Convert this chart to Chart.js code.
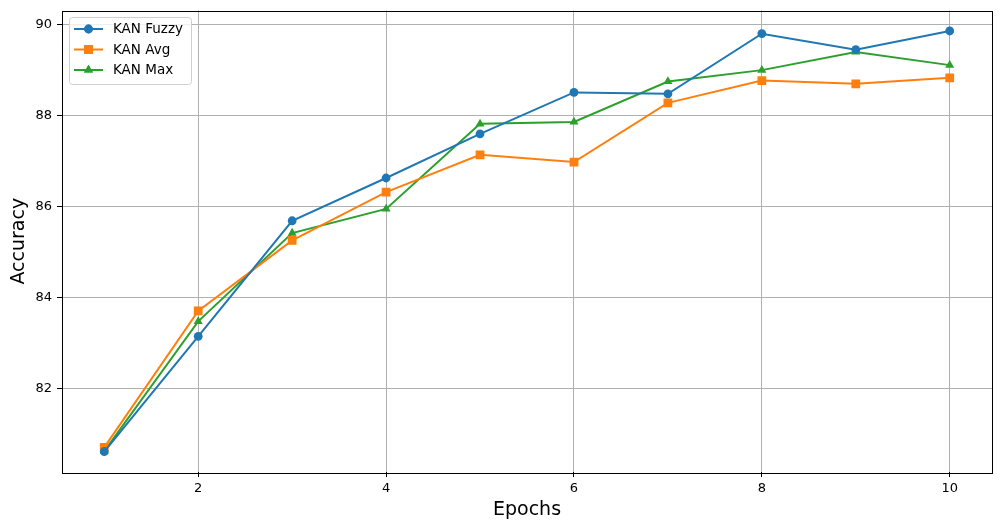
<!DOCTYPE html>
<html>
<head>
<meta charset="utf-8">
<script src="https://cdn.jsdelivr.net/npm/chart.js@4"></script>
<style>
  html, body { margin: 0; padding: 0; background: #fff; }
  canvas { display: block; }
</style>
</head>
<body>
<canvas id="grafico" width="1002" height="530"></canvas>
<script>
// datos
const epochs = [1, 2, 3, 4, 5, 6, 7, 8, 9, 10];
const kanFuzzy = [80.62, 83.15, 85.69, 86.63, 87.60, 88.51, 88.48, 89.80, 89.45, 89.86];
const kanAvg   = [80.71, 83.71, 85.26, 86.32, 87.14, 86.98, 88.28, 88.77, 88.70, 88.83];
const kanMax   = [80.63, 83.48, 85.42, 85.95, 87.82, 87.86, 88.75, 89.00, 89.40, 89.11];
const xTicks = [2, 4, 6, 8, 10];
const yTicks = [82, 84, 86, 88, 90];

const FONT = 'DejaVu Sans';

const toPoints = vals => epochs.map((e, i) => ({ x: e, y: vals[i] }));

function serie(label, vals, color, style, radius) {
  return {
    label: label,
    data: toPoints(vals),
    borderColor: color,
    backgroundColor: color,
    borderWidth: 2,
    pointStyle: style,
    pointRadius: radius,
    pointBorderWidth: 0,
    pointBackgroundColor: color,
    tension: 0
  };
}

// marco completo, como en matplotlib
const marco = {
  id: 'marco',
  afterDatasetsDraw(chart) {
    const { ctx, chartArea: a } = chart;
    ctx.save();
    ctx.strokeStyle = '#000';
    ctx.lineWidth = 1;
    ctx.strokeRect(Math.round(a.left) + 0.5, Math.round(a.top) + 0.5,
                   Math.round(a.right - a.left), Math.round(a.bottom - a.top));
    ctx.restore();
  }
};

// leyenda con linea + marcador
const leyenda = {
  id: 'leyenda',
  afterDraw(chart) {
    const ctx = chart.ctx;
    const x0 = 69, y0 = 17, w = 122, h = 67;
    ctx.save();
    ctx.fillStyle = 'rgba(255,255,255,0.8)';
    ctx.strokeStyle = '#d0d0d0';
    ctx.lineWidth = 1;
    ctx.beginPath();
    ctx.roundRect(x0 + 0.5, y0 + 0.5, w, h, 3);
    ctx.fill();
    ctx.stroke();
    ctx.font = '13.5px ' + FONT;
    ctx.textBaseline = 'middle';
    chart.data.datasets.forEach((ds, i) => {
      const cy = 29 + i * 20.5;
      ctx.strokeStyle = ds.borderColor;
      ctx.lineWidth = 2;
      ctx.beginPath();
      ctx.moveTo(74, cy);
      ctx.lineTo(103, cy);
      ctx.stroke();
      ctx.fillStyle = ds.borderColor;
      Chart.helpers.drawPoint(ctx, {
        pointStyle: ds.pointStyle, radius: ds.pointRadius, rotation: 0, borderWidth: 0
      }, 88.5, cy);
      ctx.fill();
      ctx.fillStyle = '#000';
      ctx.fillText(ds.label, 113, cy + 0.5);
    });
    ctx.restore();
  }
};

const ctx = document.getElementById('grafico').getContext('2d');
new Chart(ctx, {
  type: 'line',
  data: {
    datasets: [
      serie('KAN Fuzzy', kanFuzzy, '#1f77b4', 'circle', 4.4),
      serie('KAN Avg', kanAvg, '#ff7f0e', 'rect', 6.2),
      serie('KAN Max', kanMax, '#2ca02c', 'triangle', 5.2)
    ]
  },
  options: {
    responsive: false,
    animation: false,
    layout: { padding: { top: 10.5, right: 10, left: 0, bottom: 0 } },
    plugins: {
      legend: { display: false },
      tooltip: { enabled: false }
    },
    scales: {
      x: {
        type: 'linear',
        min: 0.55,
        max: 10.45,
        afterBuildTicks: s => { s.ticks = xTicks.map(v => ({ value: v })); },
        afterFit: s => { s.height = 58; s.paddingLeft = 0; s.paddingRight = 0; },
        grid: { color: '#b0b0b0', lineWidth: 1, tickLength: 5, tickColor: '#000' },
        border: { display: false },
        ticks: { color: '#000', font: { family: FONT, size: 13 }, padding: 4, maxRotation: 0 },
        title: {
          display: true, text: 'Epochs', color: '#000',
          font: { family: FONT, size: 19 }, padding: { top: 2, bottom: 9 }
        }
      },
      y: {
        type: 'linear',
        min: 80.17,
        max: 90.31,
        afterBuildTicks: s => { s.ticks = yTicks.map(v => ({ value: v })); },
        afterFit: s => { s.width = 62; s.paddingTop = 0; s.paddingBottom = 0; },
        grid: { color: '#b0b0b0', lineWidth: 1, tickLength: 5, tickColor: '#000' },
        border: { display: false },
        ticks: { color: '#000', font: { family: FONT, size: 13 }, padding: 5 },
        title: {
          display: true, text: 'Accuracy', color: '#000',
          font: { family: FONT, size: 19 }, padding: { top: 8, bottom: 0 }
        }
      }
    }
  },
  plugins: [marco, leyenda]
});
</script>
</body>
</html>
